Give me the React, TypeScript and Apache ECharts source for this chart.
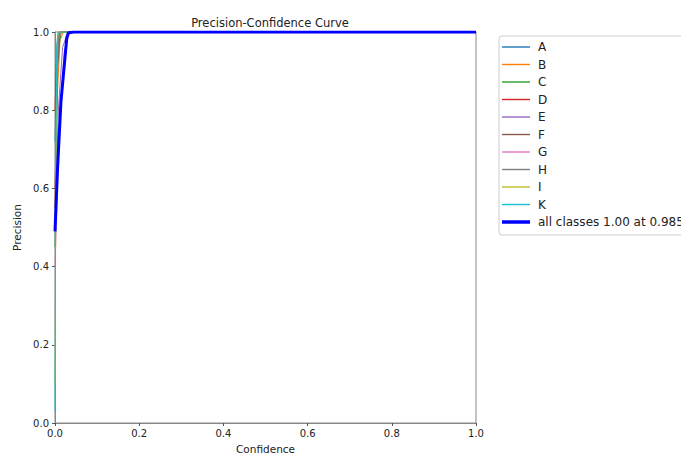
import React, { useEffect, useRef } from "react";
import * as echarts from "echarts";

const classNames = ["A", "B", "C", "D", "E", "F", "G", "H", "I", "K"];
const classColors = ["#1f77b4", "#ff7f0e", "#2ca02c", "#d62728", "#9467bd", "#8c564b", "#e377c2", "#7f7f7f", "#bcbd22", "#17becf"];

// [confidence, precision] pairs per class
const classA = [[0, 0.72], [0.004, 0.9], [0.008, 0.99], [0.012, 1.0], [1, 1.0]];
const classB = [[0, 0.55], [0.006, 0.85], [0.012, 0.98], [0.02, 1.0], [1, 1.0]];
const classC = [[0, 0.45], [0.005, 0.9], [0.01, 0.97], [0.015, 1.0], [1, 1.0]];
const classD = [[0, 0.8], [0.004, 0.95], [0.008, 1.0], [1, 1.0]];
const classE = [[0, 0.5], [0.008, 0.8], [0.018, 0.96], [0.03, 1.0], [1, 1.0]];
const classF = [[0, 0.6], [0.006, 0.9], [0.012, 1.0], [1, 1.0]];
const classG = [[0, 0.4], [0.01, 0.75], [0.022, 0.95], [0.035, 1.0], [1, 1.0]];
const classH = [[0, 0.55], [0.005, 0.92], [0.01, 1.0], [1, 1.0]];
const classI = [[0, 0.1], [0.002, 0.6], [0.005, 0.97], [0.008, 1.0], [1, 1.0]];
const classK = [[0, 0.03], [0.002, 0.7], [0.004, 0.96], [0.006, 0.99], [0.01, 1.0], [1, 1.0]];
const classData = [classA, classB, classC, classD, classE, classF, classG, classH, classI, classK];

const allClassesName = "all classes 1.00 at 0.985";
const allClasses = [[0, 0.49], [0.006, 0.65], [0.014, 0.82], [0.028, 0.985], [0.032, 0.998], [0.045, 1.0], [1, 1.0]];

const thinIcon = "path://M0,0 L24,0 L24,1.2 L0,1.2 Z";
const thickIcon = "path://M0,0 L24,0 L24,3 L0,3 Z";

export default function App() {
  const ref = useRef<HTMLDivElement>(null);
  useEffect(() => {
    if (!ref.current) return;
    const chart = echarts.init(ref.current, null, { renderer: "svg" });
    const font = "DejaVu Sans";
    const series: any[] = classNames.map((n, i) => ({
      name: n,
      type: "line",
      data: classData[i],
      symbol: "none",
      lineStyle: { width: 1, color: classColors[i] },
      itemStyle: { color: classColors[i] },
      z: 2,
    }));
    series.push({
      name: allClassesName,
      type: "line",
      data: allClasses,
      symbol: "none",
      lineStyle: { width: 3, color: "#0000ff" },
      itemStyle: { color: "#0000ff" },
      z: 3,
    });
    const legendData: any[] = classNames.map((n) => ({ name: n, icon: thinIcon }));
    legendData.push({ name: allClassesName, icon: thickIcon });
    chart.setOption({
      animation: false,
      backgroundColor: "#ffffff",
      title: {
        text: "Precision-Confidence Curve",
        left: 265,
        textAlign: "center",
        top: 12,
        textStyle: { fontFamily: font, fontSize: 11.5, fontWeight: "normal", color: "#222" },
      },
      grid: {
        left: 55,
        right: 205,
        top: 32,
        bottom: 34,
        show: true,
        borderColor: "#888",
        borderWidth: 1,
        backgroundColor: "transparent",
      },
      legend: {
        orient: "vertical",
        left: 499,
        top: 36,
        itemWidth: 28,
        itemHeight: 12,
        itemGap: 5.5,
        padding: [5, 8, 7, 3],
        borderColor: "#ccc",
        borderWidth: 1,
        borderRadius: 3,
        textStyle: { fontFamily: font, fontSize: 12, lineHeight: 12, color: "#222", padding: [0, 0, 0, 3] },
        data: legendData,
      },
      xAxis: {
        type: "value",
        min: 0,
        max: 1,
        interval: 0.2,
        name: "Confidence",
        nameLocation: "middle",
        nameGap: 20,
        nameTextStyle: { fontFamily: font, fontSize: 10.5, color: "#222" },
        axisLine: { show: true, lineStyle: { color: "#888" } },
        axisTick: { show: true, length: 3, lineStyle: { color: "#555" } },
        axisLabel: { fontFamily: font, fontSize: 10, color: "#222", margin: 5, formatter: (v: number) => v.toFixed(1) },
        splitLine: { show: false },
      },
      yAxis: {
        type: "value",
        min: 0,
        max: 1,
        interval: 0.2,
        name: "Precision",
        nameLocation: "middle",
        nameGap: 33,
        nameTextStyle: { fontFamily: font, fontSize: 10.5, color: "#222" },
        axisLine: { show: true, lineStyle: { color: "#888" } },
        axisTick: { show: true, length: 3, lineStyle: { color: "#555" } },
        axisLabel: { fontFamily: font, fontSize: 10, color: "#222", margin: 6, formatter: (v: number) => v.toFixed(1) },
        splitLine: { show: false },
      },
      series,
    });
    return () => chart.dispose();
  }, []);
  return <div ref={ref} style={{ position: "fixed", left: 0, top: 0, width: 681, height: 459 }} />;
}
